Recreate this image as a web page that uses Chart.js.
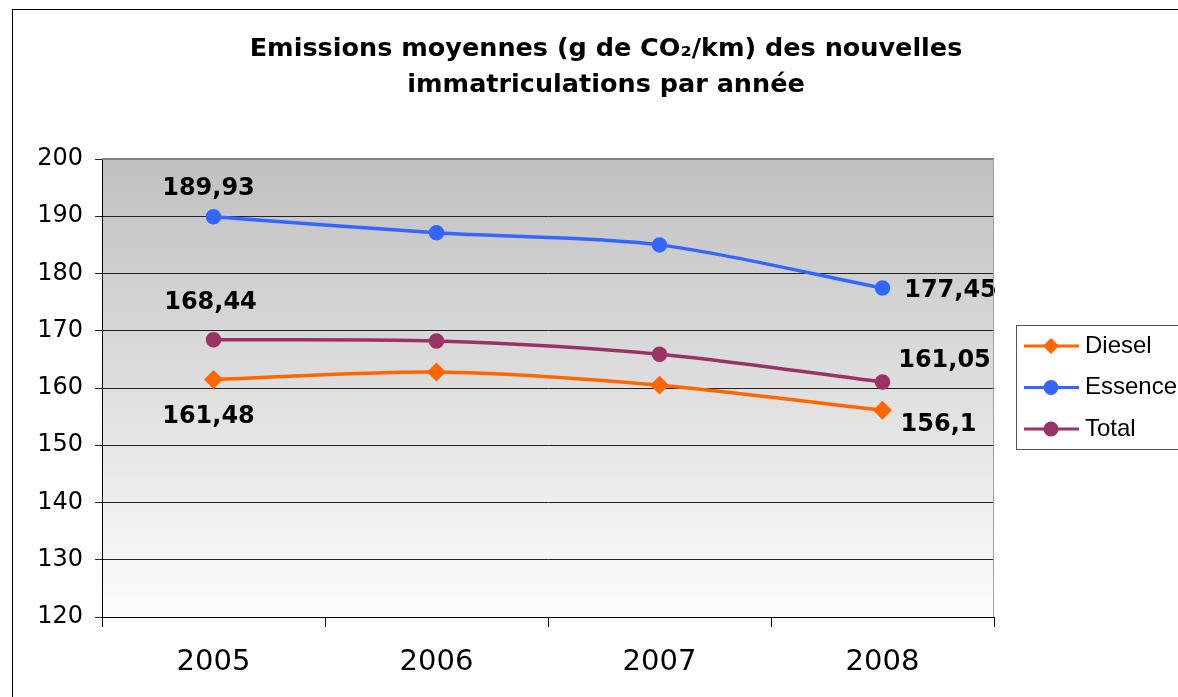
<!DOCTYPE html>
<html>
<head>
<meta charset="utf-8">
<script src="https://cdn.jsdelivr.net/npm/chart.js@4.4.0/dist/chart.umd.min.js"></script>
<style>
  html, body { margin: 0; padding: 0; background: #ffffff; overflow: hidden; }
  #baseGraf { width: 1178px; height: 697px; overflow: hidden; position: relative; }
  canvas { display: block; }
</style>
</head>
<body>
<div id="baseGraf"><canvas id="graficaCO2" width="1240" height="720"></canvas></div>
<script>
/* DONNEES */
const annees = ['2005', '2006', '2007', '2008'];
const diesel = [161.48, 162.8, 160.5, 156.1];
const essence = [189.93, 187.1, 185.0, 177.45];
const total = [168.44, 168.2, 165.9, 161.05];
const nomsSeries = ['Diesel', 'Essence', 'Total'];
const titreLignes = ['Emissions moyennes (g de CO\u2082/km) des nouvelles', 'immatriculations par ann\u00e9e'];
const axeYMin = 120, axeYMax = 200, axeYPas = 10;

/* STYLES */
let couleurs = ['#ff6600', '#3366ff', '#993366'];
let formes = ['rectRot', 'circle', 'circle'];
// decalage des etiquettes (premier point, dernier point) par serie
let decalEtiq = [
  [[-5, 37], [56, 14]],
  [[-5, -28], [68, 3]],
  [[-3, -37], [62, -21]]
];

const formatFr = v => String(v).replace('.', ',');

const pluginFond = {
  id: 'fond',
  beforeDraw(chart) {
    const { ctx, chartArea: a } = chart;
    ctx.save();
    // cadre exterieur
    ctx.strokeStyle = '#000000';
    ctx.lineWidth = 1;
    ctx.strokeRect(12.5, 9.5, 2000, 2000);
    // fond degrade
    let deg = ctx.createLinearGradient(0, a.top, 0, a.bottom);
    deg.addColorStop(0, '#c0c0c0');
    deg.addColorStop(1, '#fdfdfd');
    ctx.fillStyle = deg;
    ctx.fillRect(a.left, a.top, a.right - a.left, a.bottom - a.top);
    // titre
    ctx.fillStyle = '#000000';
    ctx.font = 'bold 25.5px "DejaVu Sans"';
    ctx.textAlign = 'center';
    ctx.textBaseline = 'middle';
    ctx.fillText(titreLignes[0], 606, 49);
    ctx.fillText(titreLignes[1], 606, 85);
    ctx.restore();
  },
  afterDraw(chart) {
    const { ctx, chartArea: a } = chart;
    ctx.save();
    ctx.strokeStyle = '#808080';
    ctx.lineWidth = 2;
    ctx.beginPath();
    ctx.moveTo(a.left, a.top);
    ctx.lineTo(a.right, a.top);
    ctx.stroke();
    ctx.strokeStyle = '#a0a0a0';
    ctx.lineWidth = 1;
    ctx.beginPath();
    ctx.moveTo(a.right - 0.5, a.top);
    ctx.lineTo(a.right - 0.5, a.bottom);
    ctx.stroke();

    /* LEGENDE */
    ctx.strokeStyle = '#555555';
    ctx.lineWidth = 1;
    ctx.fillStyle = '#ffffff';
    ctx.fillRect(1016.5, 325.5, 200, 124);
    ctx.strokeRect(1016.5, 325.5, 200, 124);
    ctx.font = '24px "Liberation Sans"';
    ctx.textBaseline = 'middle';
    ctx.textAlign = 'left';
    chart.data.datasets.forEach((ds, i) => {
      let y = 346 + i * 41.5;
      ctx.strokeStyle = ds.borderColor;
      ctx.lineWidth = 3;
      ctx.beginPath();
      ctx.moveTo(1024, y);
      ctx.lineTo(1079, y);
      ctx.stroke();
      Chart.helpers.drawPoint(ctx, { pointStyle: ds.pointStyle, radius: 6, borderWidth: 1 }, 1051, y);
      ctx.fillStyle = ds.borderColor;
      ctx.fill();
      ctx.fillStyle = '#000000';
      ctx.fillText(ds.label, 1085, y);
    });
    ctx.restore();
  },
  afterDatasetsDraw(chart) {
    const { ctx } = chart;
    ctx.save();
    ctx.font = 'bold 24px "DejaVu Sans"';
    ctx.fillStyle = '#000000';
    ctx.textAlign = 'center';
    ctx.textBaseline = 'middle';
    chart.data.datasets.forEach((ds, i) => {
      const meta = chart.getDatasetMeta(i);
      const idx = [0, ds.data.length - 1];
      idx.forEach((k, j) => {
        const p = meta.data[k];
        const d = decalEtiq[i][j];
        ctx.fillText(formatFr(ds.data[k]), p.x + d[0], p.y + d[1]);
      });
    });
    ctx.restore();
  }
};

const series = [diesel, essence, total];
const datasets = series.map((vals, i) => ({
  label: nomsSeries[i],
  data: vals,
  borderColor: couleurs[i],
  backgroundColor: couleurs[i],
  pointBackgroundColor: couleurs[i],
  pointBorderColor: couleurs[i],
  pointStyle: formes[i],
  pointRadius: formes[i] === 'rectRot' ? 7 : 6,
  borderWidth: 3.5,
  tension: 0.3,
  fill: false
}));

const grafica = document.getElementById('graficaCO2').getContext('2d');

new Chart(grafica, {
  type: 'line',
  data: { labels: annees, datasets: datasets },
  options: {
    responsive: false,
    animation: false,
    layout: { padding: { top: 159, left: 12, right: 246, bottom: 23 } },
    plugins: {
      legend: { display: false },
      title: { display: false },
      tooltip: { enabled: false }
    },
    scales: {
      x: {
        offset: true,
        afterFit: s => { s.height = 80; },
        grid: { offset: true, drawOnChartArea: false, drawTicks: true, tickLength: 10, color: '#000000' },
        border: { color: '#000000', width: 1 },
        ticks: { color: '#000000', padding: 18, font: { family: 'DejaVu Sans', size: 29 } }
      },
      y: {
        min: axeYMin,
        max: axeYMax,
        afterFit: s => { s.width = 90; },
        grid: { color: '#222222', lineWidth: 1, tickLength: 7, drawTicks: true },
        border: { color: '#000000', width: 1 },
        ticks: { stepSize: axeYPas, color: '#000000', padding: 12, font: { family: 'DejaVu Sans', size: 24 } }
      }
    }
  },
  plugins: [pluginFond]
});
</script>
</body>
</html>
